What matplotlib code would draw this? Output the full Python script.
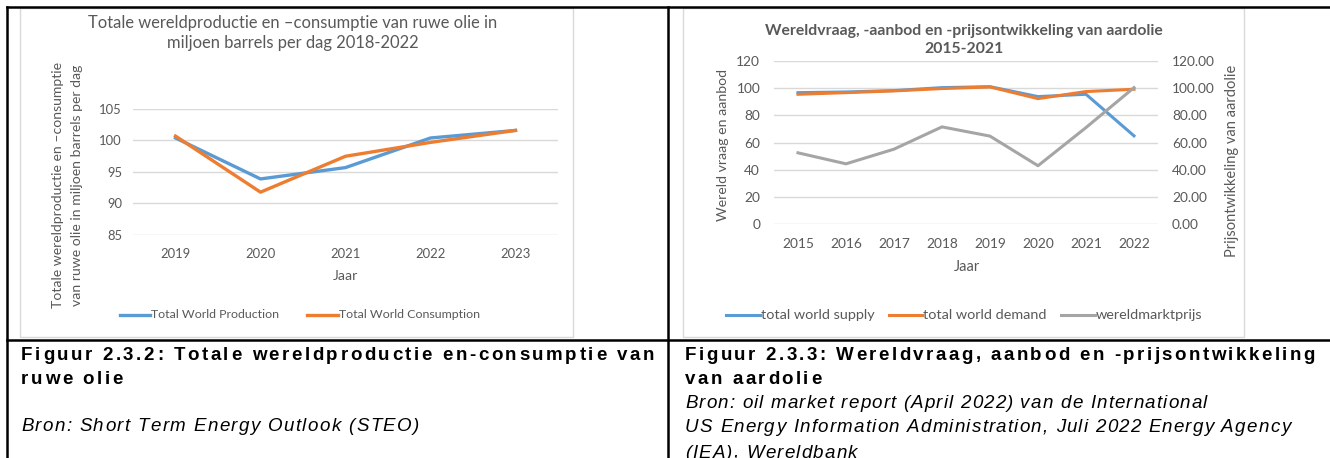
import matplotlib
matplotlib.use("Agg")
import matplotlib.pyplot as plt
import numpy as np
from matplotlib.lines import Line2D
from matplotlib.patches import Rectangle
from matplotlib.font_manager import FontProperties, findfont
from matplotlib.ft2font import FT2Font

# --- data -------------------------------------------------------------------
years1 = ["2019", "2020", "2021", "2022", "2023"]
production = [100.4, 93.9, 95.7, 100.4, 101.6]
consumption = [100.7, 91.8, 97.5, 99.7, 101.6]

years2 = ["2015", "2016", "2017", "2018", "2019", "2020", "2021", "2022"]
supply = [96.7, 97.2, 98.2, 100.4, 101.1, 93.8, 95.5, 64.9]
demand = [95.5, 96.7, 98.0, 99.7, 100.9, 92.3, 97.5, 99.2]
price = [52.4, 44.3, 55.1, 71.5, 64.7, 42.9, 71.0, 100.4]

yticks1 = [85, 90, 95, 100, 105]
yticks2 = [0, 20, 40, 60, 80, 100, 120]

BLUE, ORANGE, GREY = "#5b9bd5", "#ed7d31", "#a5a5a5"
TXT, GRID = "#595959", "#d9d9d9"
CF = "Lato"   # stand-in for Calibri

W, H = 1330, 458
fig = plt.figure(figsize=(W / 100, H / 100), dpi=100)


def box(x0, y0, x1, y1):
    return [x0 / W, 1 - y1 / H, (x1 - x0) / W, (y1 - y0) / H]


def ftext(x, y, s, **kw):
    kw.setdefault("family", CF)
    kw.setdefault("color", TXT)
    kw.setdefault("va", "center")
    return fig.text(x / W, 1 - y / H, s, **kw)


def fline(x0, y0, x1, y1, **kw):
    fig.add_artist(Line2D([x0 / W, x1 / W], [1 - y0 / H, 1 - y1 / H],
                          transform=fig.transFigure, **kw))


def style_axis(ax):
    for sp in ax.spines.values():
        sp.set_visible(False)
    ax.tick_params(length=0, colors=TXT)
    for lab in ax.get_xticklabels() + ax.get_yticklabels():
        lab.set_family(CF)


# captions are letter-spaced, so place them char by char
def advances(s, weight, style, size):
    prop = FontProperties(family="Liberation Sans", weight=weight, style=style)
    font = FT2Font(findfont(prop))
    font.set_size(size, 100)
    return [font.load_char(ord(c)).linearHoriAdvance / 65536 for c in s]


def spaced(x, y, s, extra, weight="normal", style="normal", size=13.5):
    adv = advances(s, weight, style, size)
    pos = x
    for c, a in zip(s, adv):
        if c != " ":
            ftext(pos, y, c, family="Liberation Sans", weight=weight, style=style,
                  fontsize=size, color="black", va="baseline")
        pos += a + extra


def extra_for(s, x0, x1, weight="normal", style="normal", size=13.5):
    return (x1 - x0 - sum(advances(s, weight, style, size))) / (len(s) - 1)


# --- table grid and chart frames -------------------------------------------
fline(7, 7, 1330, 7, color="black", lw=1.8)
fline(7, 7, 7, 458, color="black", lw=1.8)
fline(668, 7, 668, 458, color="black", lw=1.8)
fline(7, 340, 1330, 340, color="black", lw=1.8)
for x0, x1 in [(20, 573), (683, 1244)]:
    fig.add_artist(Rectangle((x0 / W, 1 - 337 / H), (x1 - x0) / W, 329 / H,
                             transform=fig.transFigure, fill=False,
                             edgecolor=GRID, lw=1))

# --- chart 1 ----------------------------------------------------------------
ax1 = fig.add_axes(box(133, 109, 558, 235))
x1 = np.arange(len(years1))
l_prod, = ax1.plot(x1, production, color=BLUE, lw=2.4, solid_joinstyle="round")
l_cons, = ax1.plot(x1, consumption, color=ORANGE, lw=2.4, solid_joinstyle="round")
ax1.set_xlim(-0.5, len(years1) - 0.5)
ax1.set_ylim(85, 105)
ax1.set_yticks(yticks1)
ax1.set_xticks(x1, years1)
ax1.grid(axis="y", color=GRID, lw=1)
ax1.set_axisbelow(True)
ax1.tick_params(axis="x", pad=9, labelsize=9.4)
ax1.tick_params(axis="y", pad=8, labelsize=9.4)
style_axis(ax1)

ftext(293, 23, "Totale wereldproductie en \u2013consumptie van ruwe olie in",
      ha="center", fontsize=11.9)
ftext(293, 43, "miljoen barrels per dag 2018-2022", ha="center", fontsize=11.9)
ftext(58, 185, "Totale wereldproductie en \u2013consumptie", rotation=90,
      ha="center", fontsize=10.1)
ftext(77, 185, "van ruwe olie in miljoen barrels per dag", rotation=90,
      ha="center", fontsize=10.1)
ftext(345, 276, "Jaar", ha="center", fontsize=10.1)

for xa, xb, line, lab in [(120, 150, l_prod, "Total World Production"),
                          (307, 338, l_cons, "Total World Consumption")]:
    fline(xa, 315, xb, 315, color=line.get_color(), lw=2.4)
    ftext(xb + 1, 315, lab, ha="left", fontsize=8.9)

# --- chart 2 ----------------------------------------------------------------
ax2 = fig.add_axes(box(774, 61, 1158, 224))
x2 = np.arange(len(years2))
l_sup, = ax2.plot(x2, supply, color=BLUE, lw=2.2, solid_joinstyle="round")
l_dem, = ax2.plot(x2, demand, color=ORANGE, lw=2.2, solid_joinstyle="round")
ax2.set_xlim(-0.5, len(years2) - 0.5)
ax2.set_ylim(0, 120)
ax2.set_yticks(yticks2)
ax2.set_xticks(x2, years2)
ax2.grid(axis="y", color=GRID, lw=1)
ax2.set_axisbelow(True)
ax2.tick_params(axis="x", pad=10, labelsize=9.9)
ax2.tick_params(axis="y", pad=10, labelsize=9.9)

ax2r = ax2.twinx()
l_pr, = ax2r.plot(x2, price, color=GREY, lw=2.2, solid_joinstyle="round")
ax2r.set_ylim(0, 120)
ax2r.set_yticks(yticks2, [f"{v:.2f}" for v in yticks2])
ax2r.tick_params(axis="y", pad=10, labelsize=9.9)
style_axis(ax2)
style_axis(ax2r)

ftext(964, 31, "Wereldvraag, -aanbod en -prijsontwikkeling van aardolie",
      ha="center", fontsize=11.3, weight="bold")
ftext(964, 49, "2015-2021", ha="center", fontsize=11.3, weight="bold")
ftext(723, 145, "Wereld vraag en aanbod", rotation=90, ha="center", fontsize=10.2)
ftext(1232, 161, "Prijsontwikkeling van aardolie", rotation=90, ha="center",
      fontsize=10.5)
ftext(967, 267, "Jaar", ha="center", fontsize=10.5)

for xa, xb, line, lab in [(726, 760, l_sup, "total world supply"),
                          (889, 922, l_dem, "total world demand"),
                          (1061, 1095, l_pr, "wereldmarktprijs")]:
    fline(xa, 315, xb, 315, color=line.get_color(), lw=2.2)
    ftext(xb + 1, 315, lab, ha="left", fontsize=10.4)

# --- captions -----------------------------------------------------------------
cap_l1 = "Figuur 2.3.2: Totale wereldproductie en-consumptie van"
cap_r1 = "Figuur 2.3.3: Wereldvraag, aanbod en -prijsontwikkeling"
eb_l = extra_for(cap_l1, 21, 654, weight="bold")
eb_r = extra_for(cap_r1, 685, 1315, weight="bold")
spaced(21, 359.5, cap_l1, eb_l, weight="bold")
spaced(21, 384.5, "ruwe olie", eb_l, weight="bold")
spaced(685, 359.5, cap_r1, eb_r, weight="bold")
spaced(685, 384.5, "van aardolie", eb_r, weight="bold")

src_l = "Bron: Short Term Energy Outlook (STEO)"
src_r = ["Bron: oil market report (April 2022) van de International",
         "US Energy Information Administration, Juli 2022 Energy Agency",
         "(IEA), Wereldbank"]
spaced(21, 431, src_l, extra_for(src_l, 21, 419, style="italic"), style="italic")
ei_1 = extra_for(src_r[0], 685, 1207, style="italic")
ei_2 = extra_for(src_r[1], 685, 1290, style="italic")
for yb, s, e in zip([408.5, 432.5, 457.5], src_r, [ei_1, ei_2, (ei_1 + ei_2) / 2]):
    spaced(685, yb, s, e, style="italic")

fig.savefig("out.png", dpi=100)
